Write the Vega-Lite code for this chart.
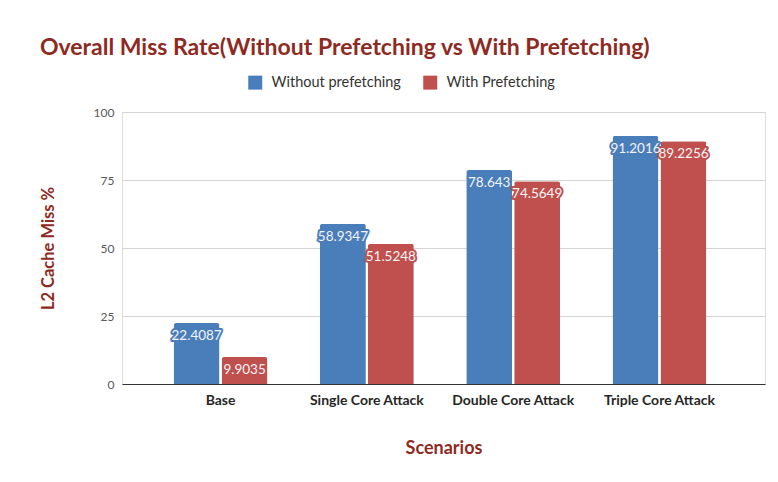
{
  "$schema": "https://vega.github.io/schema/vega-lite/v6.json",
  "width": 643,
  "height": 272,
  "autosize": {"type": "none"},
  "padding": {"left": 122, "top": 112, "right": 13, "bottom": 98},
  "background": "white",
  "title": {
    "text": "Overall Miss Rate(Without Prefetching vs With Prefetching)",
    "anchor": "start",
    "frame": "group",
    "dx": -82,
    "offset": 15,
    "font": "Lato",
    "fontSize": 23,
    "fontWeight": "bold",
    "color": "#8e2a22"
  },
  "data": {
    "values": [
      {"scenario": "Base", "series": "Without prefetching", "value": 22.4087},
      {"scenario": "Base", "series": "With Prefetching", "value": 9.9035},
      {"scenario": "Single Core Attack", "series": "Without prefetching", "value": 58.9347},
      {"scenario": "Single Core Attack", "series": "With Prefetching", "value": 51.5248},
      {"scenario": "Double Core Attack", "series": "Without prefetching", "value": 78.643},
      {"scenario": "Double Core Attack", "series": "With Prefetching", "value": 74.5649},
      {"scenario": "Triple Core Attack", "series": "Without prefetching", "value": 91.2016},
      {"scenario": "Triple Core Attack", "series": "With Prefetching", "value": 89.2256}
    ]
  },
  "encoding": {
    "x": {
      "field": "scenario",
      "type": "nominal",
      "sort": ["Base", "Single Core Attack", "Double Core Attack", "Triple Core Attack"],
      "scale": {"paddingInner": 0, "paddingOuter": 0.1975, "align": 0.44},
      "axis": {
        "title": "Scenarios",
        "labelAngle": 0,
        "ticks": false,
        "labelPadding": 9,
        "labelFont": "Lato",
        "labelFontSize": 14,
        "labelFontWeight": "bold",
        "labelColor": "#262626",
        "domainColor": "#333333",
        "domainWidth": 1.2,
        "titleFont": "Lato",
        "titleFontSize": 18,
        "titleFontWeight": "bold",
        "titleColor": "#8e2a22",
        "titlePadding": 32
      }
    },
    "xOffset": {
      "field": "series",
      "type": "nominal",
      "sort": ["Without prefetching", "With Prefetching"],
      "scale": {"paddingInner": 0.042, "paddingOuter": 0.547}
    },
    "y": {
      "field": "value",
      "type": "quantitative",
      "scale": {"domain": [0, 100]},
      "axis": {
        "title": "L2 Cache Miss %",
        "values": [0, 25, 50, 75, 100],
        "ticks": false,
        "domain": false,
        "labelPadding": 8,
        "labelFont": "Lato",
        "labelFontSize": 12,
        "labelColor": "#595959",
        "gridColor": "#d4d4d4",
        "titleFont": "Lato",
        "titleFontSize": 16.5,
        "titleFontWeight": "bold",
        "titleColor": "#8e2a22",
        "titlePadding": 37
      }
    }
  },
  "layer": [
    {
      "mark": {"type": "bar", "cornerRadiusTopLeft": 2.5, "cornerRadiusTopRight": 2.5},
      "encoding": {
        "color": {
          "field": "series",
          "type": "nominal",
          "sort": ["Without prefetching", "With Prefetching"],
          "scale": {"range": ["#4a7ebb", "#c0504d"]},
          "legend": {
            "title": null,
            "orient": "none",
            "legendX": 126,
            "legendY": -37,
            "direction": "horizontal",
            "symbolType": "square",
            "symbolSize": 196,
            "symbolStrokeWidth": 0,
            "symbolOpacity": 1,
            "labelFont": "Lato",
            "labelFontSize": 14.5,
            "labelColor": "#333333",
            "labelOffset": 9,
            "columnPadding": 22
          }
        }
      }
    },
    {
      "mark": {
        "type": "text",
        "baseline": "middle",
        "dy": 13,
        "font": "Lato",
        "fontSize": 13.5,
        "strokeWidth": 4,
        "strokeJoin": "round"
      },
      "encoding": {
        "text": {"field": "value", "type": "quantitative"},
        "stroke": {
          "field": "series",
          "type": "nominal",
          "sort": ["Without prefetching", "With Prefetching"],
          "scale": {"range": ["#4a7ebb", "#c0504d"]},
          "legend": null
        }
      }
    },
    {
      "mark": {
        "type": "text",
        "baseline": "middle",
        "dy": 13,
        "font": "Lato",
        "fontSize": 13.5,
        "fill": "#f4f4f8"
      },
      "encoding": {
        "text": {"field": "value", "type": "quantitative"}
      }
    }
  ]
}
